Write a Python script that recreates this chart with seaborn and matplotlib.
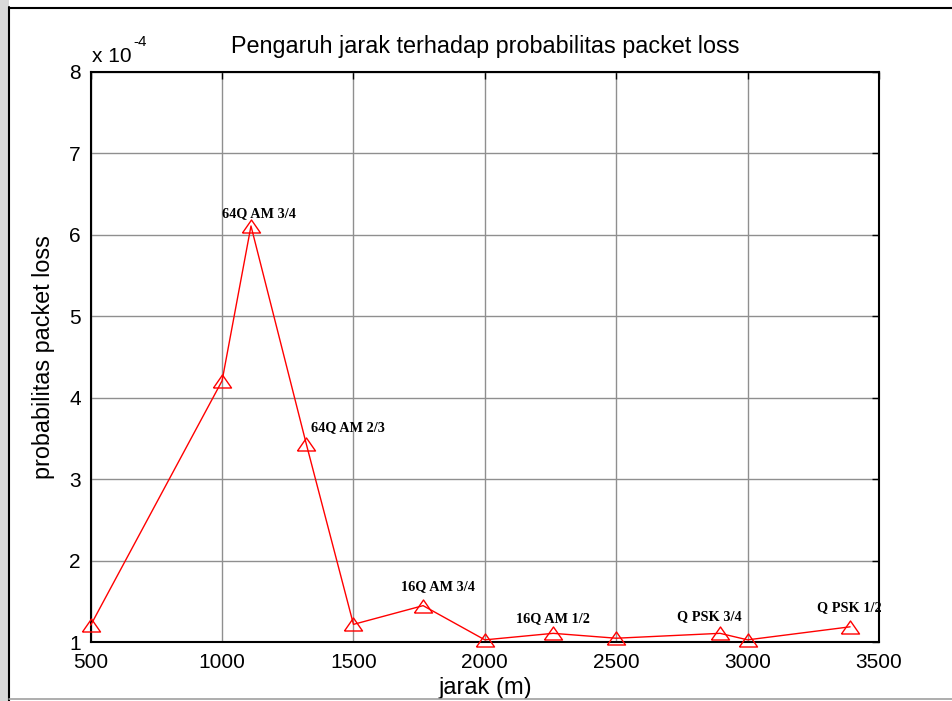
import matplotlib
matplotlib.use("Agg")
import matplotlib.pyplot as plt
import seaborn as sns
import pandas as pd
from matplotlib.patches import Rectangle
from matplotlib.lines import Line2D
from matplotlib.ticker import FuncFormatter, FixedLocator

# ---- data (probability values in units of 1e-4) ----
jarak = [500, 1000, 1110, 1320, 1500, 1765, 2000, 2260, 2500, 2895, 3000, 3390]
prob_e4 = [1.21, 4.21, 6.11, 3.44, 1.22, 1.45, 1.03, 1.11, 1.05, 1.11, 1.03, 1.19]

label_text = ["64Q AM 3/4", "64Q AM 2/3", "16Q AM 3/4", "16Q AM 1/2", "Q PSK 3/4", "Q PSK 1/2"]
label_x = [1000, 1340, 1680, 2120, 2730, 3265]
label_y_e4 = [6.26, 3.64, 1.68, 1.29, 1.32, 1.42]

x_ticks = [500, 1000, 1500, 2000, 2500, 3000, 3500]
y_ticks_e4 = [1, 2, 3, 4, 5, 6, 7, 8]

SCALE = 1e-4
df = pd.DataFrame({"jarak": jarak, "prob": [v * SCALE for v in prob_e4]})

sns.set_style("white")
plt.rcParams["font.family"] = ["Liberation Sans", "DejaVu Sans"]
plt.rcParams["axes.unicode_minus"] = False
plt.rcParams["text.color"] = "black"
plt.rcParams["axes.labelcolor"] = "black"
plt.rcParams["xtick.color"] = "black"
plt.rcParams["ytick.color"] = "black"

W, H = 953, 701
fig = plt.figure(figsize=(W / 100, H / 100), dpi=100)
fig.patch.set_facecolor("white")

# outer screenshot frame
fig.patches.append(Rectangle((0, 0), 9 / W, 1, transform=fig.transFigure,
                             facecolor="#d9d9d9", edgecolor="none", zorder=0))
fig.lines.append(Line2D([9.5 / W, 9.5 / W], [0, 1 - 7 / H], transform=fig.transFigure,
                        color="black", lw=1.5))
fig.lines.append(Line2D([9 / W, 1], [1 - 7.5 / H, 1 - 7.5 / H], transform=fig.transFigure,
                        color="black", lw=1.5))
fig.lines.append(Line2D([9 / W, 1], [2.5 / H, 2.5 / H], transform=fig.transFigure,
                        color="#a0a0a0", lw=1.2))

ax = fig.add_axes([90.7 / W, (H - 642.3) / H, (879 - 90.7) / W, (642.3 - 72) / H])

tri = [(-1, -0.72), (1, -0.72), (0, 0.72), (-1, -0.72)]
sns.lineplot(data=df, x="jarak", y="prob", ax=ax, sort=False, estimator=None,
             color="red", lw=1.0, marker=tri, markersize=13,
             markerfacecolor="none", markeredgecolor="red", markeredgewidth=1.0,
             clip_on=False, zorder=5)

for t, lx, ly in zip(label_text, label_x, label_y_e4):
    ax.text(lx, ly * SCALE, t, ha="left", va="center", fontsize=10.3,
            fontweight="bold", family=["Liberation Serif", "DejaVu Serif"], color="black")

ax.set_xlim(500, 3500)
ax.set_ylim(1 * SCALE, 8 * SCALE)
ax.xaxis.set_major_locator(FixedLocator(x_ticks))
ax.yaxis.set_major_locator(FixedLocator([v * SCALE for v in y_ticks_e4]))
ax.yaxis.set_major_formatter(FuncFormatter(lambda v, p: f"{v / SCALE:.0f}"))
ax.xaxis.set_major_formatter(FuncFormatter(lambda v, p: f"{v:.0f}"))

ax.grid(True, color="#8f8f8f", lw=1.0, ls="-")
ax.set_axisbelow(True)
for s in ax.spines.values():
    s.set_visible(True)
    s.set_color("black")
    s.set_linewidth(1.5)

ax.tick_params(axis="both", direction="in", length=5, width=1, color="black",
               top=True, right=True, labelsize=15, labelcolor="black")
ax.tick_params(axis="x", pad=8)
ax.tick_params(axis="y", pad=7)

ax.set_title("Pengaruh jarak terhadap probabilitas packet loss", fontsize=16.8, pad=14,
             color="black")
ax.set_xlabel("jarak (m)", fontsize=17, labelpad=3)
ax.set_ylabel("probabilitas packet loss", fontsize=16.8, labelpad=10)

# exponent label in MATLAB style
fig.text(92 / W, 1 - 62 / H, "x 10", fontsize=15, ha="left", va="baseline", color="black")
fig.text(133 / W, 1 - 46 / H, "-4", fontsize=11, ha="left", va="baseline", color="black")

fig.savefig("out.png", dpi=100)
